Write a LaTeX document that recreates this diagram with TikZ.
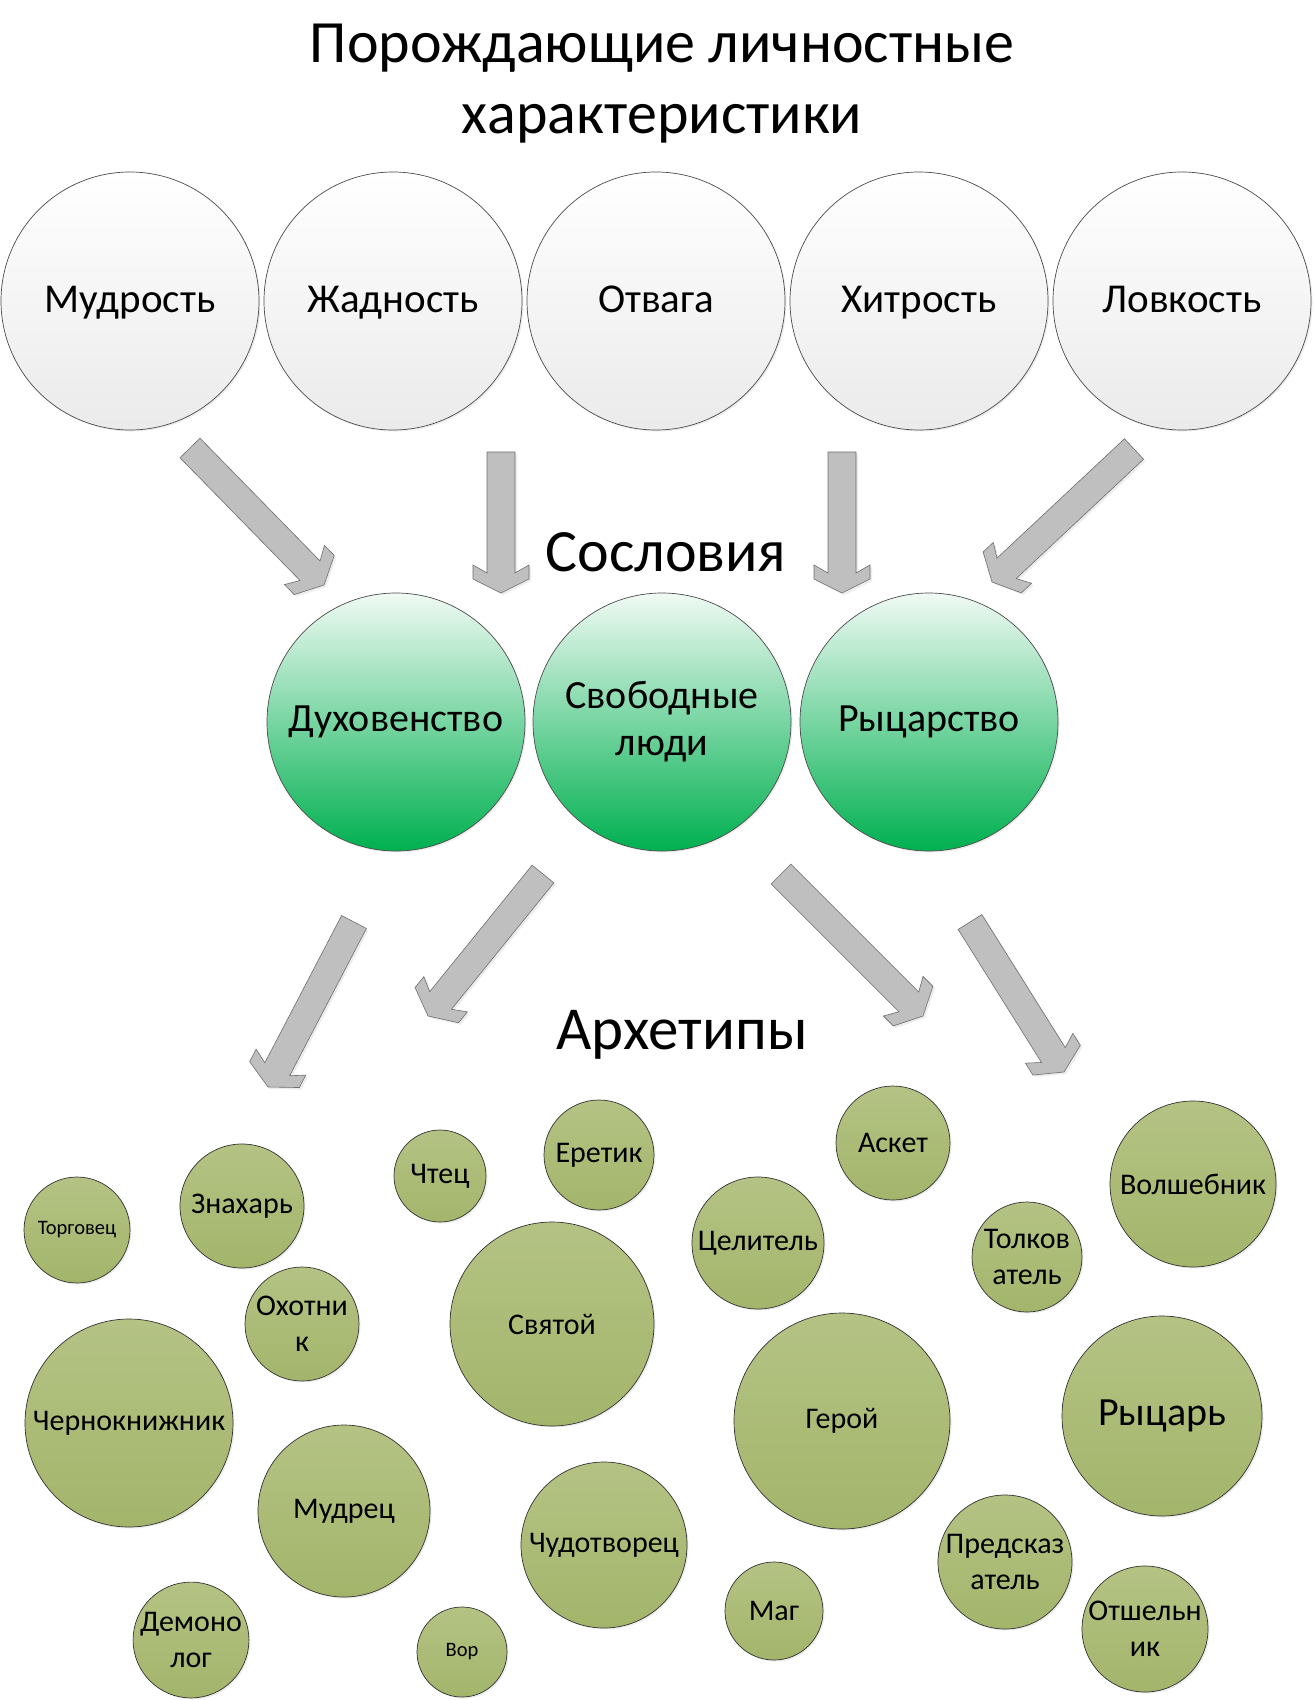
\documentclass[tikz,border=0pt]{standalone}
\usepackage{fontspec}
\setmainfont{Carlito}
\usetikzlibrary{calc,shadows}
\definecolor{arrowgray}{HTML}{BFBFBF}
\definecolor{arrowedge}{HTML}{6E6E6E}
\definecolor{estatetop}{HTML}{F0FAF4}
\definecolor{estatebot}{HTML}{00B050}
\definecolor{archtop}{HTML}{B4C384}
\definecolor{archbot}{HTML}{A3B56B}
% fat grey arrow from #1 (tail) to #2 (tip)
\newcommand{\fatarrow}[2]{%
  \coordinate (fa1) at ($(#2)!20pt!(#1)$);
  \coordinate (fa2) at ($(#2)!28pt!(#1)$);
  \coordinate (fa3) at ($(#2)!14pt!(#1)$);
  \draw[fat] ($(#1)!14pt!90:(#2)$) -- ($(fa1)!14pt!90:(#2)$)
    -- ($(fa2)!28pt!90:(#2)$) -- ($(fa3)!28pt!90:(#2)$) -- (#2)
    -- ($(fa3)!28pt!-90:(#2)$) -- ($(fa2)!28pt!-90:(#2)$)
    -- ($(fa1)!14pt!-90:(#2)$) -- ($(#1)!14pt!-90:(#2)$) -- cycle;
}

\begin{document}
\begin{tikzpicture}[x=1pt,y=-1pt,
  trait/.style={circle, draw=black!70, line width=0.7pt, top color=white,
    bottom color=black!8, minimum size=258pt, inner sep=0pt,
    text height=31pt, text depth=9pt,
    font=\fontsize{41}{49}\selectfont,
    drop shadow={shadow xshift=1.5pt, shadow yshift=-1.5pt, opacity=0.15}},
  estate/.style={circle, draw=black!70, line width=0.7pt, top color=estatetop,
    bottom color=estatebot, minimum size=258pt, inner sep=0pt, align=center,
    font=\fontsize{40}{47}\selectfont,
    drop shadow={shadow xshift=1.5pt, shadow yshift=-1.5pt, opacity=0.15}},
  arch/.style={circle, draw=black!80, line width=0.7pt, top color=archtop,
    bottom color=archbot, inner sep=0pt, align=center,
    font=\fontsize{30}{36}\selectfont,
    drop shadow={shadow xshift=1.5pt, shadow yshift=-1.5pt, opacity=0.15}},
  tiny/.style={font=\fontsize{20.5}{24}\selectfont},
  heading/.style={anchor=base, font=\fontsize{60}{71}\selectfont},
  fat/.style={fill=arrowgray, draw=arrowedge, line width=0.6pt,
    drop shadow={shadow xshift=2pt, shadow yshift=-2pt, opacity=0.15}}]

\path[use as bounding box, fill=white] (0,0) rectangle (1314,1700);

% headings
\node[heading] (title1) at (662,62) {Порождающие личностные};
\node[heading] (title2) at (662,133) {характеристики};
\node[heading] (soslovia) at (666,571) {Сословия};
\node[heading, font=\fontsize{61}{71}\selectfont] (arhetipy) at (682,1049) {Архетипы};

% traits
\node[trait] (mudrost) at (130,301) {Мудрость};
\node[trait] (zhadnost) at (393,301) {Жадность};
\node[trait] (otvaga) at (656,301) {Отвага};
\node[trait] (hitrost) at (919,301) {Хитрость};
\node[trait] (lovkost) at (1182,301) {Ловкость};

% estates
\node[estate] (duh) at (396,722) {Духовенство};
\node[estate] (svob) at (662,722) {Свободные\\люди};
\node[estate] (ryc) at (929,722) {Рыцарство};

% arrows
\coordinate (t1) at (190,448);  \coordinate (h1) at (324,585);
\coordinate (t2) at (501,452);  \coordinate (h2) at (501,593);
\coordinate (t3) at (842,452);  \coordinate (h3) at (842,593);
\coordinate (t4) at (1134,449); \coordinate (h4) at (992,582);
\coordinate (t5) at (354,922);  \coordinate (h5) at (268,1087);
\coordinate (t6) at (543,874);  \coordinate (h6) at (428,1016);
\coordinate (t7) at (781,874);  \coordinate (h7) at (923,1016);
\coordinate (t8) at (970,922);  \coordinate (h8) at (1064,1072);
\foreach \i in {1,...,8}{\fatarrow{t\i}{h\i}}

% archetypes
\node[arch, tiny, minimum size=106pt] (torgovec) at (77,1230) {Торговец};
\node[arch, minimum size=124pt] (znahar) at (242,1206) {Знахарь};
\node[arch, minimum size=92pt] (chtec) at (440,1176) {Чтец};
\node[arch, minimum size=110pt] (eretik) at (599,1155) {Еретик};
\node[arch, minimum size=114pt] (asket) at (893,1143) {Аскет};
\node[arch, minimum size=166pt] (volshebnik) at (1193,1184) {Волшебник};
\node[arch, minimum size=132pt] (celitel) at (758,1243) {Целитель};
\node[arch, minimum size=110pt] (tolkovatel) at (1027,1257) {Толков\\атель};
\node[arch, minimum size=114pt] (ohotnik) at (302,1324) {Охотни\\к};
\node[arch, minimum size=204pt] (svyatoy) at (552,1324) {Святой};
\node[arch, minimum size=208pt] (chernoknizhnik) at (129,1423) {Чернокнижник};
\node[arch, minimum size=216pt] (geroy) at (842,1421) {Герой};
\node[arch, minimum size=200pt, font=\fontsize{40}{47}\selectfont] (rycar) at (1162,1416) {Рыцарь};
\node[arch, minimum size=172pt] (mudrec) at (344,1511) {Мудрец};
\node[arch, minimum size=166pt] (chudotvorec) at (604,1545) {Чудотворец};
\node[arch, minimum size=134pt] (predskazatel) at (1005,1562) {Предсказ\\атель};
\node[arch, minimum size=98pt] (mag) at (774,1611) {Маг};
\node[arch, minimum size=124pt] (otshelnik) at (1145,1629) {Отшельн\\ик};
\node[arch, minimum size=114pt] (demonolog) at (191,1640) {Демоно\\лог};
\node[arch, tiny, minimum size=90pt] (vor) at (462,1652) {Вор};

\end{tikzpicture}
\end{document}
